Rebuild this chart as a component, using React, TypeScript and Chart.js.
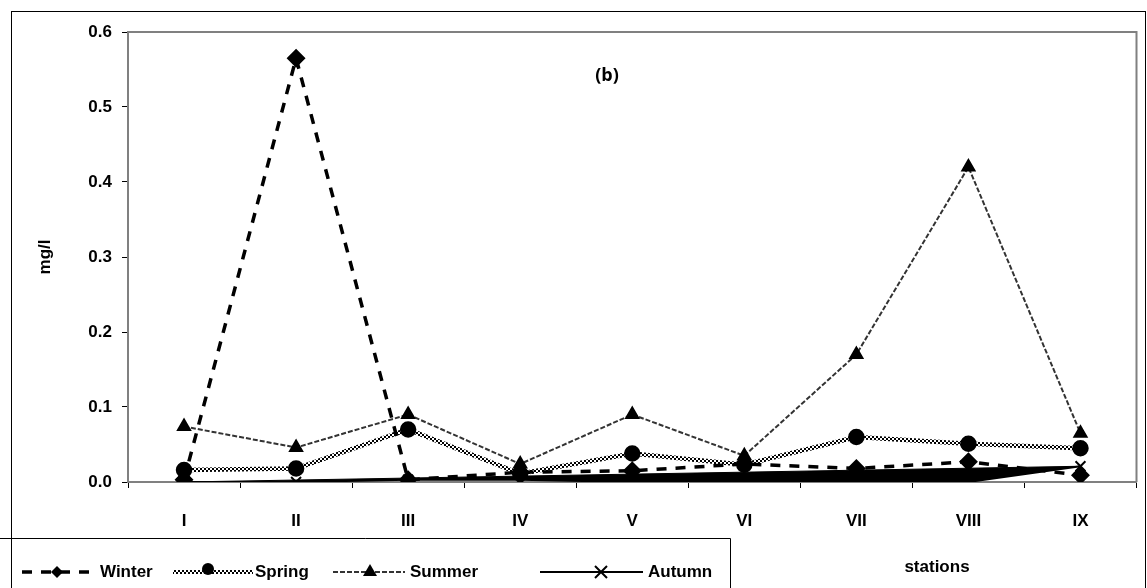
import React, { useEffect, useRef } from "react";
import { Chart, registerables } from "chart.js";

Chart.register(...registerables);

const stations = ["I", "II", "III", "IV", "V", "VI", "VII", "VIII", "IX"];
const winter = [0.003, 0.565, 0.003, 0.013, 0.015, 0.024, 0.018, 0.027, 0.009];
const spring = [0.016, 0.018, 0.07, 0.011, 0.038, 0.023, 0.06, 0.051, 0.045];
const summer = [0.074, 0.046, 0.09, 0.024, 0.09, 0.035, 0.17, 0.42, 0.065];
const autumn = [0.0, 0.0, 0.003, 0.003, 0.0, 0.0, 0.0, 0.0, 0.021];
const autumnTrend = [0.0, null, null, null, null, null, null, null, 0.021];
const yTicks = [0, 0.1, 0.2, 0.3, 0.4, 0.5, 0.6];

const FONT = "'Liberation Sans', Arial, sans-serif";

function makePattern(): CanvasPattern | string {
  const c = document.createElement("canvas");
  c.width = 4;
  c.height = 4;
  const g = c.getContext("2d");
  if (!g) return "#777";
  g.fillStyle = "#ffffff";
  g.fillRect(0, 0, 4, 4);
  g.fillStyle = "#000000";
  g.fillRect(0, 0, 2, 2);
  g.fillRect(2, 2, 2, 2);
  const p = g.createPattern(c, "repeat");
  return p || "#777";
}

export default function App() {
  const ref = useRef<HTMLCanvasElement | null>(null);

  useEffect(() => {
    const canvas = ref.current;
    if (!canvas) return;
    const pattern = makePattern();

    const decor = {
      id: "decor",
      beforeDatasetsDraw(chart: any) {
        const { ctx, chartArea } = chart;
        ctx.save();
        ctx.strokeStyle = "#808080";
        ctx.lineWidth = 2;
        ctx.beginPath();
        ctx.moveTo(chartArea.left, chartArea.top);
        ctx.lineTo(chartArea.right, chartArea.top);
        ctx.lineTo(chartArea.right, chartArea.bottom);
        ctx.stroke();
        ctx.restore();
      },
      afterDraw(chart: any) {
        const { ctx, chartArea } = chart;
        ctx.save();
        // outer frame
        ctx.strokeStyle = "#000";
        ctx.lineWidth = 1;
        ctx.strokeRect(11.5, 11.5, 1134, 620);
        // legend box
        ctx.beginPath();
        ctx.moveTo(0, 538.5);
        ctx.lineTo(730.5, 538.5);
        ctx.lineTo(730.5, 588);
        ctx.stroke();
        ctx.fillStyle = "#000";
        // axis titles
        ctx.font = `bold 17px ${FONT}`;
        ctx.textAlign = "center";
        ctx.textBaseline = "middle";
        ctx.fillText("stations", 937, 567);
        ctx.save();
        ctx.translate(45, (chartArea.top + chartArea.bottom) / 2);
        ctx.rotate(-Math.PI / 2);
        ctx.fillText("mg/l", 0, 0);
        ctx.restore();
        ctx.font = `bold 18px 'Open Sans', sans-serif`;
        ctx.fillText("(b)", 607, 76);

        // legend
        const ly = 572;
        const drawLine = (x1: number, x2: number, style: any, w: number, dash: number[]) => {
          ctx.save();
          ctx.strokeStyle = style;
          ctx.lineWidth = w;
          ctx.setLineDash(dash);
          ctx.beginPath();
          ctx.moveTo(x1, ly);
          ctx.lineTo(x2, ly);
          ctx.stroke();
          ctx.restore();
        };
        drawLine(22, 96, "#000", 3.5, [10, 9]);
        ctx.beginPath();
        ctx.moveTo(57, ly - 6);
        ctx.lineTo(63, ly);
        ctx.lineTo(57, ly + 6);
        ctx.lineTo(51, ly);
        ctx.closePath();
        ctx.fill();
        drawLine(173, 253, pattern, 4, []);
        ctx.beginPath();
        ctx.arc(208, ly - 3, 6, 0, Math.PI * 2);
        ctx.fill();
        drawLine(333, 405, "#333", 2, [5, 2]);
        ctx.beginPath();
        ctx.moveTo(370, ly - 8);
        ctx.lineTo(377, ly + 4);
        ctx.lineTo(363, ly + 4);
        ctx.closePath();
        ctx.fill();
        drawLine(540, 643, "#000", 2, []);
        ctx.save();
        ctx.lineWidth = 2;
        ctx.beginPath();
        ctx.moveTo(595, ly - 6);
        ctx.lineTo(607, ly + 6);
        ctx.moveTo(607, ly - 6);
        ctx.lineTo(595, ly + 6);
        ctx.stroke();
        ctx.restore();
        ctx.font = `bold 17px ${FONT}`;
        ctx.textAlign = "left";
        ctx.fillText("Winter", 100, ly);
        ctx.fillText("Spring", 255, ly);
        ctx.fillText("Summer", 410, ly);
        ctx.fillText("Autumn", 648, ly);
        ctx.restore();
      },
    };

    const chart = new Chart(canvas, {
      type: "line",
      data: {
        labels: stations,
        datasets: [
          {
            label: "Winter",
            data: winter,
            borderColor: "#000",
            borderWidth: 3.5,
            borderDash: [10, 9],
            pointStyle: "rectRot",
            pointRadius: 7,
            pointBackgroundColor: "#000",
            pointBorderColor: "#000",
            tension: 0,
            fill: false,
          },
          {
            label: "Spring",
            data: spring,
            borderColor: pattern as any,
            borderWidth: 4.5,
            pointStyle: "circle",
            pointRadius: 6,
            pointBackgroundColor: "#000",
            pointBorderColor: "#000",
            tension: 0,
            fill: false,
          },
          {
            label: "Summer",
            data: summer,
            borderColor: "#333",
            borderWidth: 2,
            borderDash: [5, 2],
            pointStyle: "triangle",
            pointRadius: 7,
            pointBackgroundColor: "#000",
            pointBorderColor: "#000",
            tension: 0,
            fill: false,
          },
          {
            label: "Autumn",
            data: autumn,
            borderColor: "#000",
            borderWidth: 2,
            pointStyle: "crossRot",
            pointRadius: 7,
            pointBorderWidth: 2,
            pointBorderColor: "#000",
            tension: 0,
            fill: false,
          },
          {
            label: "trend",
            data: autumnTrend as any,
            borderColor: "#000",
            borderWidth: 1,
            backgroundColor: "#000",
            pointRadius: 0,
            spanGaps: true,
            tension: 0,
            fill: 3,
          },
        ],
      },
      options: {
        responsive: false,
        animation: false,
        layout: { padding: { left: 0, right: 10, top: 32, bottom: 0 } },
        plugins: {
          legend: { display: false },
          tooltip: { enabled: false },
        },
        scales: {
          x: {
            offset: true,
            afterFit: (s: any) => {
              s.height = 106;
            },
            grid: {
              display: true,
              drawOnChartArea: false,
              drawTicks: true,
              offset: true,
              tickLength: 6,
              color: "#000",
            },
            border: { display: true, color: "#808080", width: 2 },
            ticks: {
              color: "#000",
              font: { family: FONT, size: 17, weight: "bold" },
              padding: 23,
              maxRotation: 0,
            },
          },
          y: {
            min: 0,
            max: 0.6,
            afterFit: (s: any) => {
              s.width = 128;
            },
            afterBuildTicks: (s: any) => {
              s.ticks = yTicks.map((v) => ({ value: v }));
            },
            grid: {
              display: true,
              drawOnChartArea: false,
              drawTicks: true,
              tickLength: 6,
              color: "#000",
            },
            border: { display: true, color: "#808080", width: 2 },
            ticks: {
              color: "#000",
              font: { family: FONT, size: 17, weight: "bold" },
              padding: 10,
              callback: (v: any) => Number(v).toFixed(1),
            },
          },
        },
      },
      plugins: [decor],
    });
    return () => chart.destroy();
  }, []);

  return (
    <div style={{ position: "fixed", left: 0, top: 0, width: 1147, height: 588, background: "#fff" }}>
      <canvas ref={ref} width={1147} height={588} style={{ display: "block" }} />
    </div>
  );
}
